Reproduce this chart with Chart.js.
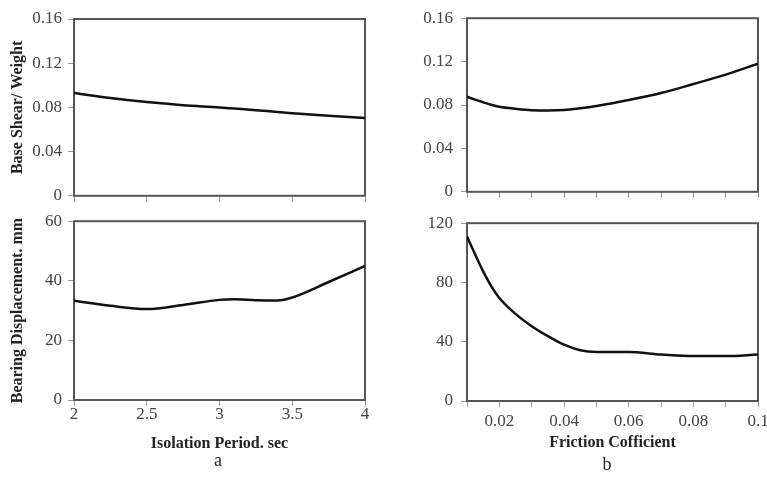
<!DOCTYPE html>
<html lang="en">
<head>
  <meta charset="UTF-8">
  <title>Base shear and bearing displacement</title>
  <script src="https://cdn.jsdelivr.net/npm/chart.js@4.4.1/dist/chart.umd.min.js"></script>
  <style>
    html, body { margin: 0; padding: 0; background: #fff; }
    body { width: 767px; height: 477px; position: relative; overflow: hidden; font-family: 'Liberation Serif', serif; }
    .panel { position: absolute; }
    .tag { position: absolute; font-size: 18px; color: #222; transform: translate(-50%, -50%); }
  </style>
</head>
<body>
  <div class="panel" style="left:0;top:0;width:380px;height:212px;"><canvas id="shearPeriod"></canvas></div>
  <div class="panel" style="left:380px;top:0;width:400px;height:210px;"><canvas id="shearFriction"></canvas></div>
  <div class="panel" style="left:0;top:205px;width:380px;height:272px;"><canvas id="dispPeriod"></canvas></div>
  <div class="panel" style="left:380px;top:205px;width:400px;height:272px;"><canvas id="dispFriction"></canvas></div>
  <div class="tag" style="left:218px;top:460px;">a</div>
  <div class="tag" style="left:607px;top:464px;">b</div>

  <script>
    // column a: isolation period (sec)
    const periodX = [2, 2.25, 2.5, 2.75, 3, 3.1, 3.25, 3.4, 3.5, 3.75, 4];
    const shearByPeriod = [0.093, 0.0885, 0.0848, 0.082, 0.080, 0.079, 0.0775, 0.0758, 0.0748, 0.0725, 0.0705];
    const dispByPeriod = [33.3, 31.6, 30.5, 31.9, 33.6, 33.8, 33.5, 33.4, 34.4, 39.6, 45.0];

    // column b: friction coefficient
    const frictionX = [0.01, 0.0125, 0.015, 0.0175, 0.02, 0.025, 0.03, 0.035, 0.04, 0.045, 0.05, 0.06, 0.07, 0.08, 0.09, 0.1];
    const shearByFriction = [0.0876, 0.085, 0.0825, 0.0802, 0.0784, 0.0765, 0.0752, 0.075, 0.0754, 0.077, 0.0791, 0.0846, 0.091, 0.0993, 0.108, 0.118];
    const dispByFriction = [111, 99, 87.5, 77.5, 69.5, 58.8, 50.5, 43.8, 38, 34.3, 33.1, 33.0, 31.4, 30.3, 30.3, 31.4];

    const periodTicks = [2, 4, 0.5];
    const frictionTicks = [0.01, 0.1, 0.01];

    Chart.defaults.font.family = "'Liberation Serif', serif";
    Chart.defaults.animation = false;

    const framePlugin = {
      id: 'frame',
      beforeDatasetsDraw(chart) {
        const { ctx, chartArea: a } = chart;
        ctx.save();
        ctx.strokeStyle = '#555';
        ctx.lineWidth = 2;
        ctx.strokeRect(a.left, a.top, a.right - a.left, a.bottom - a.top);
        ctx.restore();
      }
    };

    const tickFont = { size: 17 };
    const titleFont = { size: 16, weight: 'bold' };

    function makePanel(id, xs, ys, cfg) {
      const points = xs.map((x, i) => ({ x: x, y: ys[i] }));
      return new Chart(document.getElementById(id), {
        type: 'line',
        data: { datasets: [{ data: points, borderColor: '#111', borderWidth: 2.5, pointRadius: 0, cubicInterpolationMode: 'monotone', fill: false }] },
        options: {
          responsive: true,
          maintainAspectRatio: false,
          layout: { padding: cfg.padding },
          plugins: { legend: { display: false }, tooltip: { enabled: false } },
          scales: {
            x: {
              type: 'linear',
              min: cfg.xTicks[0], max: cfg.xTicks[1],
              ticks: {
                stepSize: cfg.xTicks[2],
                display: cfg.xLabels,
                autoSkip: false, maxRotation: 0,
                font: tickFont, color: '#444', padding: cfg.xPad || 0,
                callback: cfg.xFormat
              },
              grid: { drawOnChartArea: false, tickLength: 6, color: '#999' },
              border: { display: false },
              title: cfg.xTitle ? { display: true, text: cfg.xTitle, font: titleFont, color: '#222', padding: { bottom: cfg.xTitlePad } } : { display: false },
              afterFit(s) { s.height = cfg.xHeight; }
            },
            y: {
              min: cfg.yTicks[0], max: cfg.yTicks[1],
              ticks: { stepSize: cfg.yTicks[2], font: tickFont, color: '#444', padding: cfg.yPad },
              grid: { drawOnChartArea: false, tickLength: 6, color: '#999' },
              border: { display: false },
              title: cfg.yTitle ? { display: true, text: cfg.yTitle, font: titleFont, color: '#222', padding: { top: 8 } } : { display: false },
              afterFit(s) { s.width = cfg.yWidth; }
            }
          }
        },
        plugins: [framePlugin]
      });
    }

    const periodFmt = v => String(v);
    const frictionFmt = v => (Math.round(v * 100) % 2 === 0 ? String(+v.toFixed(2)) : '');

    makePanel('shearPeriod', periodX, shearByPeriod, {
      padding: { top: 19, right: 15 }, xTicks: periodTicks, xLabels: false, xFormat: periodFmt,
      xHeight: 14, yTicks: [0, 0.16, 0.04], yWidth: 74, yPad: 6, yTitle: 'Base Shear/ Weight'
    });
    makePanel('shearFriction', frictionX, shearByFriction, {
      padding: { top: 18, right: 22 }, xTicks: frictionTicks, xLabels: false, xFormat: frictionFmt,
      xHeight: 18, yTicks: [0, 0.16, 0.04], yWidth: 87, yPad: 8
    });
    makePanel('dispPeriod', periodX, dispByPeriod, {
      padding: { top: 16, right: 15 }, xTicks: periodTicks, xLabels: true, xFormat: periodFmt, xPad: -2,
      xHeight: 77, xTitle: 'Isolation Period. sec', xTitlePad: 24,
      yTicks: [0, 60, 20], yWidth: 74, yPad: 6, yTitle: 'Bearing Displacement. mm'
    });
    makePanel('dispFriction', frictionX, dispByFriction, {
      padding: { top: 17, right: 22 }, xTicks: frictionTicks, xLabels: true, xFormat: frictionFmt, xPad: 4,
      xHeight: 76, xTitle: 'Friction Cofficient', xTitlePad: 25,
      yTicks: [0, 120, 40], yWidth: 87, yPad: 8
    });
  </script>
</body>
</html>
